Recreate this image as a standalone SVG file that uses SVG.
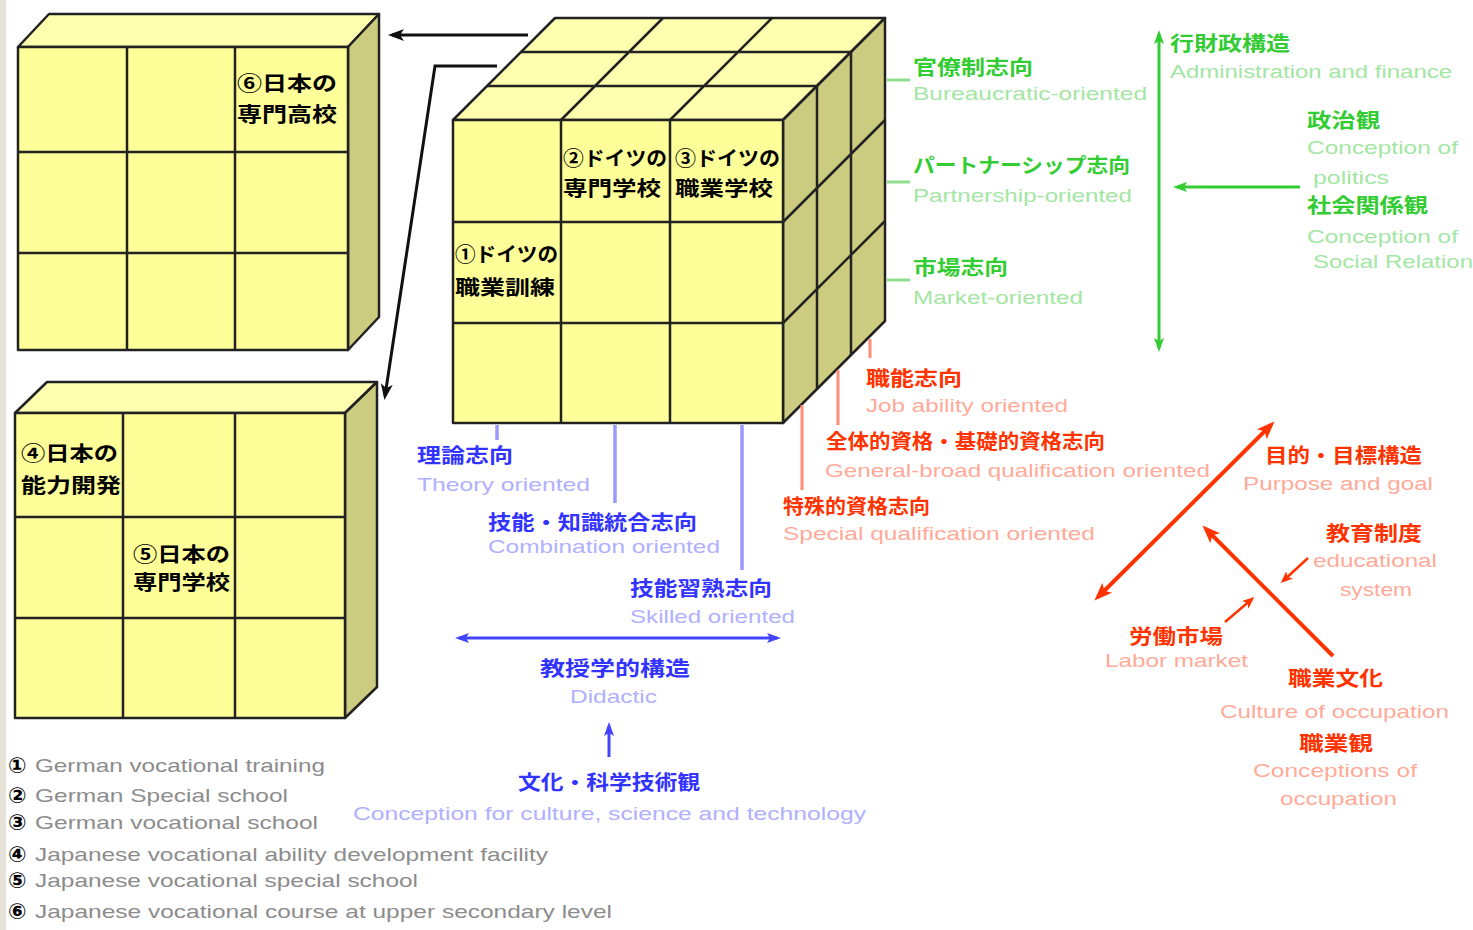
<svg xmlns="http://www.w3.org/2000/svg" width="1473" height="930" viewBox="0 0 1473 930">
<style>
.ff{fill:#ffff99;stroke:#222;stroke-width:2.5;stroke-linejoin:round}
.ft{fill:#ffffb0;stroke:#222;stroke-width:2.5;stroke-linejoin:round}
.fs{fill:#cccc80;stroke:#222;stroke-width:2.5;stroke-linejoin:round}
.gr{stroke:#222;stroke-width:2.5;fill:none}
.jp{font-family:"Noto Sans CJK JP","Noto Sans CJK SC",sans-serif;font-weight:bold;font-size:20px}
.en{font-family:"Liberation Sans",Arial,sans-serif;font-size:19px}
.num{font-family:"DejaVu Sans",sans-serif;font-weight:bold;font-size:22px;fill:#000}
.k{fill:#000}
.jg{fill:#33cc33}.eg{fill:#a3e6a3}
.jb{fill:#3333ff}.eb{fill:#b0b0ff}
.jr{fill:#ff3300}.er{fill:#ffaa99}
.el{fill:#8c8c8c}
.lk{stroke:#111;stroke-width:3;fill:none}
.lg{stroke:#33cc33;stroke-width:3;fill:none}
.lgt{stroke:#8fdf8f;stroke-width:3;fill:none}
.lb{stroke:#4444ff;stroke-width:3;fill:none}
.lbt{stroke:#9999ff;stroke-width:3.5;fill:none}
.lr{stroke:#ff3300;stroke-width:4;fill:none}
.lrs{stroke:#ff3300;stroke-width:2.5;fill:none}
.lrt{stroke:#ff8c73;stroke-width:3;fill:none}
</style>
<defs>
<marker id="ak" markerUnits="userSpaceOnUse" markerWidth="16" markerHeight="12" refX="12" refY="6" orient="auto-start-reverse"><path d="M0,0 L16,6 L0,12 L4,6 z" fill="#111"/></marker>
<marker id="ag" markerUnits="userSpaceOnUse" markerWidth="14" markerHeight="10" refX="10" refY="5" orient="auto-start-reverse"><path d="M0,0 L14,5 L0,10 L3,5 z" fill="#33cc33"/></marker>
<marker id="ab" markerUnits="userSpaceOnUse" markerWidth="14" markerHeight="10" refX="10" refY="5" orient="auto-start-reverse"><path d="M0,0 L14,5 L0,10 L3,5 z" fill="#4444ff"/></marker>
<marker id="ar" markerUnits="userSpaceOnUse" markerWidth="18" markerHeight="14" refX="13" refY="7" orient="auto-start-reverse"><path d="M0,0 L18,7 L0,14 L4,7 z" fill="#ff3300"/></marker>
<marker id="ars" markerUnits="userSpaceOnUse" markerWidth="12" markerHeight="10" refX="9" refY="5" orient="auto-start-reverse"><path d="M0,0 L12,5 L0,10 L3,5 z" fill="#ff3300"/></marker>
</defs>
<rect x="0" y="0" width="1473" height="930" fill="#ffffff"/>
<rect x="0" y="0" width="6" height="930" fill="#e6e2d8"/>

<g id="box-top">
<polygon class="ft" points="18,47 49,14 379,14 348,47"/>
<polygon class="fs" points="348,47 379,14 379,317 348,350"/>
<rect class="ff" x="18" y="47" width="330" height="303"/>
<path class="gr" d="M127,47V350M235,47V350M18,152H348M18,253H348"/>
<text class="jp k" x="237" y="91" textLength="100" lengthAdjust="spacingAndGlyphs">⑥日本の</text>
<text class="jp k" x="237" y="122" textLength="100" lengthAdjust="spacingAndGlyphs">専門高校</text>
</g>

<g id="box-bottom">
<polygon class="ft" points="15,413 47,382 377,382 345,413"/>
<polygon class="fs" points="345,413 377,382 377,687 345,718"/>
<rect class="ff" x="15" y="413" width="330" height="305"/>
<path class="gr" d="M123,413V718M235,413V718M15,517H345M15,618H345"/>
<text class="jp k" x="21" y="461" textLength="97" lengthAdjust="spacingAndGlyphs">④日本の</text>
<text class="jp k" x="21" y="493" textLength="100" lengthAdjust="spacingAndGlyphs">能力開発</text>
<text class="jp k" x="133" y="562" textLength="97" lengthAdjust="spacingAndGlyphs">⑤日本の</text>
<text class="jp k" x="133" y="590" textLength="97" lengthAdjust="spacingAndGlyphs">専門学校</text>
</g>

<g id="cube-main">
<polygon class="ft" points="453,120 555,18 885,18 783,120"/>
<polygon class="fs" points="783,120 885,18 885,321 783,423"/>
<rect class="ff" x="453" y="120" width="330" height="303"/>
<path class="gr" d="M487,86H817M521,52H851M561,120L663,18M670,120L772,18"/>
<path class="gr" d="M817,86V389M851,52V355M783,222L885,120M783,323L885,221"/>
<path class="gr" d="M561,120V423M670,120V423M453,222H783M453,323H783"/>
<text class="jp k" x="563" y="166" textLength="104" lengthAdjust="spacingAndGlyphs">②ドイツの</text>
<text class="jp k" x="563" y="196" textLength="98" lengthAdjust="spacingAndGlyphs">専門学校</text>
<text class="jp k" x="675" y="166" textLength="105" lengthAdjust="spacingAndGlyphs">③ドイツの</text>
<text class="jp k" x="675" y="196" textLength="98" lengthAdjust="spacingAndGlyphs">職業学校</text>
<text class="jp k" x="455" y="262" textLength="103" lengthAdjust="spacingAndGlyphs">①ドイツの</text>
<text class="jp k" x="455" y="295" textLength="100" lengthAdjust="spacingAndGlyphs">職業訓練</text>
</g>

<g id="connectors">
<line class="lk" x1="528" y1="35" x2="392" y2="35" marker-end="url(#ak)"/>
<polyline class="lk" points="497,66 435,66 385,396" marker-end="url(#ak)"/>
<path class="lgt" d="M887,80H910M887,182H910M887,280H910"/>
<line class="lg" x1="1159" y1="34" x2="1159" y2="348" marker-start="url(#ag)" marker-end="url(#ag)"/>
<line class="lg" x1="1300" y1="187" x2="1177" y2="187" marker-end="url(#ag)"/>
<path class="lbt" d="M497,425V440M615,425V503M742,425V570"/>
<line class="lb" x1="459" y1="638" x2="777" y2="638" marker-start="url(#ab)" marker-end="url(#ab)"/>
<line class="lb" x1="609" y1="757" x2="609" y2="726" marker-end="url(#ab)"/>
<path class="lrt" d="M870,339V358M838,370V425M802,405V490"/>
<line class="lr" x1="1098" y1="597" x2="1271" y2="425" marker-start="url(#ar)" marker-end="url(#ar)"/>
<line class="lr" x1="1333" y1="656" x2="1206" y2="529" marker-end="url(#ar)"/>
<line class="lrs" x1="1308" y1="558" x2="1283" y2="581" marker-end="url(#ars)"/>
<line class="lrs" x1="1225" y1="622" x2="1252" y2="599" marker-end="url(#ars)"/>
</g>

<g id="green-labels">
<text class="jp jg" x="913" y="75" textLength="120" lengthAdjust="spacingAndGlyphs">官僚制志向</text>
<text class="en eg" x="913" y="100" textLength="234" lengthAdjust="spacingAndGlyphs">Bureaucratic-oriented</text>
<text class="jp jg" x="913" y="173" textLength="217" lengthAdjust="spacingAndGlyphs">パートナーシップ志向</text>
<text class="en eg" x="913" y="202" textLength="219" lengthAdjust="spacingAndGlyphs">Partnership-oriented</text>
<text class="jp jg" x="913" y="275" textLength="95" lengthAdjust="spacingAndGlyphs">市場志向</text>
<text class="en eg" x="913" y="304" textLength="170" lengthAdjust="spacingAndGlyphs">Market-oriented</text>
<text class="jp jg" x="1170" y="51" textLength="120" lengthAdjust="spacingAndGlyphs">行財政構造</text>
<text class="en eg" x="1170" y="78" textLength="282" lengthAdjust="spacingAndGlyphs">Administration and finance</text>
<text class="jp jg" x="1307" y="128" textLength="73" lengthAdjust="spacingAndGlyphs">政治観</text>
<text class="en eg" x="1307" y="154" textLength="151" lengthAdjust="spacingAndGlyphs">Conception of</text>
<text class="en eg" x="1313" y="184" textLength="76" lengthAdjust="spacingAndGlyphs">politics</text>
<text class="jp jg" x="1307" y="213" textLength="121" lengthAdjust="spacingAndGlyphs">社会関係観</text>
<text class="en eg" x="1307" y="243" textLength="151" lengthAdjust="spacingAndGlyphs">Conception of</text>
<text class="en eg" x="1313" y="268" textLength="160" lengthAdjust="spacingAndGlyphs">Social Relation</text>
</g>

<g id="blue-labels">
<text class="jp jb" x="417" y="463" textLength="96" lengthAdjust="spacingAndGlyphs">理論志向</text>
<text class="en eb" x="417" y="491" textLength="173" lengthAdjust="spacingAndGlyphs">Theory oriented</text>
<text class="jp jb" x="488" y="530" textLength="209" lengthAdjust="spacingAndGlyphs">技能・知識統合志向</text>
<text class="en eb" x="488" y="553" textLength="232" lengthAdjust="spacingAndGlyphs">Combination oriented</text>
<text class="jp jb" x="630" y="596" textLength="142" lengthAdjust="spacingAndGlyphs">技能習熟志向</text>
<text class="en eb" x="630" y="623" textLength="165" lengthAdjust="spacingAndGlyphs">Skilled oriented</text>
<text class="jp jb" x="540" y="676" textLength="150" lengthAdjust="spacingAndGlyphs">教授学的構造</text>
<text class="en eb" x="570" y="703" textLength="87" lengthAdjust="spacingAndGlyphs">Didactic</text>
<text class="jp jb" x="518" y="790" textLength="182" lengthAdjust="spacingAndGlyphs">文化・科学技術観</text>
<text class="en eb" x="353" y="820" textLength="513" lengthAdjust="spacingAndGlyphs">Conception for culture, science and technology</text>
</g>

<g id="red-labels">
<text class="jp jr" x="866" y="386" textLength="96" lengthAdjust="spacingAndGlyphs">職能志向</text>
<text class="en er" x="866" y="412" textLength="202" lengthAdjust="spacingAndGlyphs">Job ability oriented</text>
<text class="jp jr" x="826" y="449" textLength="279" lengthAdjust="spacingAndGlyphs">全体的資格・基礎的資格志向</text>
<text class="en er" x="825" y="477" textLength="385" lengthAdjust="spacingAndGlyphs">General-broad qualification oriented</text>
<text class="jp jr" x="783" y="514" textLength="147" lengthAdjust="spacingAndGlyphs">特殊的資格志向</text>
<text class="en er" x="783" y="540" textLength="312" lengthAdjust="spacingAndGlyphs">Special qualification oriented</text>
<text class="jp jr" x="1265" y="463" textLength="157" lengthAdjust="spacingAndGlyphs">目的・目標構造</text>
<text class="en er" x="1243" y="490" textLength="190" lengthAdjust="spacingAndGlyphs">Purpose and goal</text>
<text class="jp jr" x="1326" y="541" textLength="96" lengthAdjust="spacingAndGlyphs">教育制度</text>
<text class="en er" x="1313" y="567" textLength="124" lengthAdjust="spacingAndGlyphs">educational</text>
<text class="en er" x="1340" y="596" textLength="72" lengthAdjust="spacingAndGlyphs">system</text>
<text class="jp jr" x="1129" y="644" textLength="94" lengthAdjust="spacingAndGlyphs">労働市場</text>
<text class="en er" x="1105" y="667" textLength="143" lengthAdjust="spacingAndGlyphs">Labor market</text>
<text class="jp jr" x="1288" y="686" textLength="95" lengthAdjust="spacingAndGlyphs">職業文化</text>
<text class="en er" x="1220" y="718" textLength="229" lengthAdjust="spacingAndGlyphs">Culture of occupation</text>
<text class="jp jr" x="1299" y="751" textLength="74" lengthAdjust="spacingAndGlyphs">職業観</text>
<text class="en er" x="1253" y="777" textLength="164" lengthAdjust="spacingAndGlyphs">Conceptions of</text>
<text class="en er" x="1280" y="805" textLength="117" lengthAdjust="spacingAndGlyphs">occupation</text>
</g>

<g id="legend">
<text class="num" x="8" y="773">①</text>
<text class="en el" x="35" y="772" textLength="290" lengthAdjust="spacingAndGlyphs">German vocational training</text>
<text class="num" x="8" y="803">②</text>
<text class="en el" x="35" y="802" textLength="253" lengthAdjust="spacingAndGlyphs">German Special school</text>
<text class="num" x="8" y="830">③</text>
<text class="en el" x="35" y="829" textLength="283" lengthAdjust="spacingAndGlyphs">German vocational school</text>
<text class="num" x="8" y="862">④</text>
<text class="en el" x="35" y="861" textLength="513" lengthAdjust="spacingAndGlyphs">Japanese vocational ability development facility</text>
<text class="num" x="8" y="888">⑤</text>
<text class="en el" x="35" y="887" textLength="383" lengthAdjust="spacingAndGlyphs">Japanese vocational special school</text>
<text class="num" x="8" y="919">⑥</text>
<text class="en el" x="35" y="918" textLength="577" lengthAdjust="spacingAndGlyphs">Japanese vocational course at upper secondary level</text>
</g>
</svg>
